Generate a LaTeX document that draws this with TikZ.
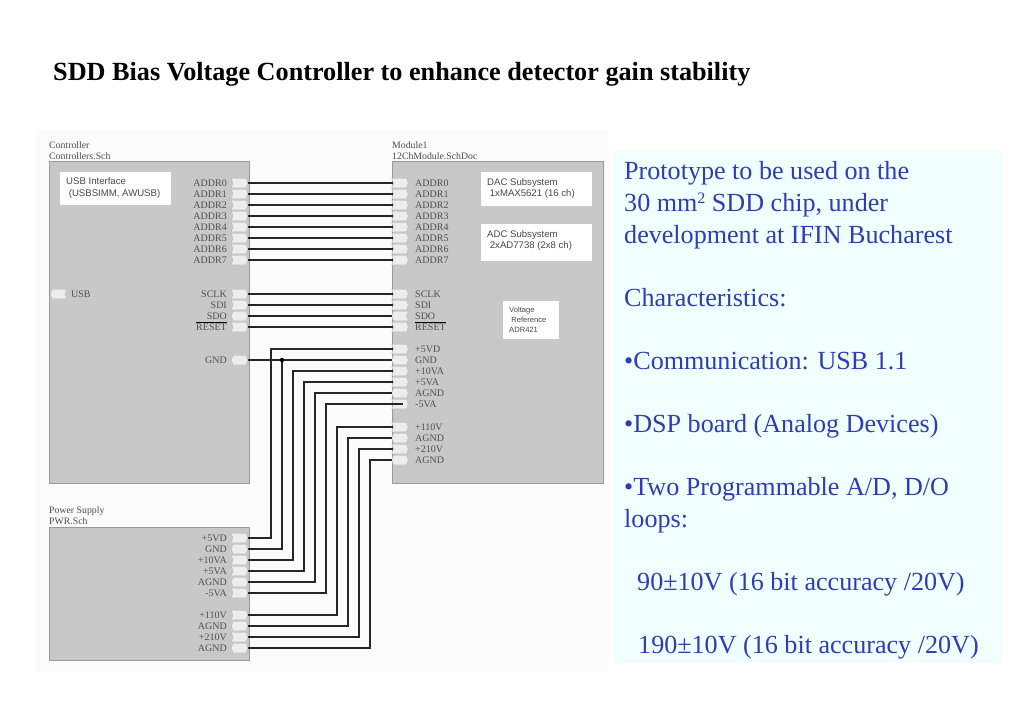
\documentclass[tikz,border=0pt]{standalone}
\usepackage{fontspec}
\setmainfont{Liberation Serif}
\newfontfamily\sansf{Liberation Sans}
\usetikzlibrary{shapes.symbols}
\definecolor{blockgray}{HTML}{C8C8C8}
\definecolor{panelbg}{HTML}{F0FFFF}
\definecolor{panelink}{HTML}{2F3CB4}
\definecolor{smallink}{HTML}{505050}
\definecolor{portfill}{HTML}{EDEDED}
\definecolor{sheetbg}{HTML}{FBFBFB}
\tikzset{
  block/.style={draw=black!40,line width=0.7pt,fill=blockgray},
  sigbase/.style={shape=signal,draw=black!28,line width=0.4pt,fill=portfill,minimum width=16.5pt,minimum height=9.5pt,inner sep=0pt,outer sep=0pt,signal pointer angle=140},
  pout/.style={sigbase,signal from=west,signal to=east},
  pleft/.style={sigbase,signal from=east,signal to=west},
  pbi/.style={sigbase,signal from=nowhere,signal to=east and west},
  plabel/.style={font=\fontsize{10}{10}\selectfont,text=smallink,inner sep=0pt},
  lw/.style={plabel,anchor=west},
  le/.style={plabel,anchor=east},
  blocktitle/.style={font=\fontsize{9.8}{11}\selectfont,text=black!70,inner sep=0pt,anchor=base west},
  sanslabel/.style={font=\sansf\fontsize{9.6}{11.5}\selectfont,text=black!72,inner sep=0pt,anchor=north west,align=left},
  wire/.style={draw=black!85,line width=1.6pt},
  bodytext/.style={font=\fontsize{26.1}{30}\selectfont,text=panelink,inner sep=0pt,anchor=base west},
}
\begin{document}
\begin{tikzpicture}[x=1pt,y=-1pt]
\useasboundingbox (0,0) rectangle (1024,709);
\fill[white] (0,0) rectangle (1024,709);
\fill[sheetbg] (36,130) rectangle (608,672);
\fill[panelbg] (614,150) rectangle (1001,663);

\node[inner sep=0pt,anchor=base west,font=\bfseries\fontsize{26.2}{28}\selectfont] (title) at (53,80) {SDD Bias Voltage Controller to enhance detector gain stability};

% blocks
\draw[block] (49,161) rectangle (249,483);
\draw[block] (392,161) rectangle (603.5,483);
\draw[block] (49,527) rectangle (249,660);

\node[blocktitle] (t1) at (49,148) {Controller};
\node[blocktitle] (t2) at (49,159) {Controllers.Sch};
\node[blocktitle] (t3) at (392,148) {Module1};
\node[blocktitle] (t4) at (392,159) {12ChModule.SchDoc};
\node[blocktitle] (t5) at (49,513) {Power Supply};
\node[blocktitle] (t6) at (49,524) {PWR.Sch};

% white boxes
\fill[white] (60,172) rectangle (171,205);
\node[sanslabel] (usbif) at (66,177.5) {USB Interface\\\ (USBSIMM, AWUSB)};
\fill[white] (481,172) rectangle (592,206);
\node[sanslabel] (dac) at (487,178) {DAC Subsystem\\\ 1xMAX5621 (16 ch)};
\fill[white] (481,224) rectangle (592,261);
\node[sanslabel] (adc) at (487,230) {ADC Subsystem\\\ 2xAD7738 (2x8 ch)};
\fill[white] (503,301) rectangle (559,339);
\node[sanslabel,font=\sansf\fontsize{7.6}{10}\selectfont] (vref) at (509,306.5) {Voltage\\\ Reference\\ ADR421};

% USB port
\node[pleft] (pusb) at (58.5,294) {};
\node[lw] (lusb) at (71,294) {USB};

% address and serial bus
\foreach \n/\lab/\yy in {a0/ADDR0/183,a1/ADDR1/194,a2/ADDR2/205,a3/ADDR3/216,a4/ADDR4/227,a5/ADDR5/238,a6/ADDR6/249,a7/ADDR7/260,sc/SCLK/294,sd/SDI/305,rs/RESET/327}{
  \node[pout] (c\n) at (239.5,\yy) {};
  \node[pout] (m\n) at (400,\yy) {};
  \node[le] (cl\n) at (227,\yy) {\lab};
  \node[lw] (ml\n) at (415,\yy) {\lab};
  \draw[wire] (c\n.east) -- (m\n.west);
}
% SDO
\node[pbi] (csd0) at (239.5,316) {};
\node[pleft] (msd0) at (400,316) {};
\node[le] (clsd0) at (227,316) {SDO};
\node[lw] (mlsd0) at (415,316) {SDO};
\draw[wire] (csd0.east) -- (msd0.west);
\draw[black,line width=0.7pt] ([yshift=0.8pt]clrs.north west) -- ([yshift=0.8pt]clrs.north east);
\draw[black,line width=0.7pt] ([yshift=0.8pt]mlrs.north west) -- ([yshift=0.8pt]mlrs.north east);

% module power ports
\foreach \n/\lab/\st/\yy in {v5d/+5VD/pout/349,gnd/GND/pbi/360,v10/+10VA/pout/371,v5a/+5VA/pout/382,ag1/AGND/pbi/393,vm5/-5VA/pout/404,v110/+110V/pout/427,ag2/AGND/pbi/438,v210/+210V/pout/449,ag3/AGND/pbi/460}{
  \node[\st] (m\n) at (400,\yy) {};
  \node[lw] (ml\n) at (415,\yy) {\lab};
}
% supply ports
\foreach \n/\lab/\st/\yy in {v5d/+5VD/pout/538,gnd/GND/pbi/549,v10/+10VA/pout/560,v5a/+5VA/pout/571,ag1/AGND/pbi/582,vm5/-5VA/pout/593,v110/+110V/pout/615,ag2/AGND/pbi/626,v210/+210V/pout/637,ag3/AGND/pbi/648}{
  \node[\st] (s\n) at (239.5,\yy) {};
  \node[le] (sl\n) at (227,\yy) {\lab};
}
% controller GND
\node[pbi] (cgnd) at (239.5,360) {};
\node[le] (clgnd) at (227,360) {GND};
\draw[wire] (cgnd.east) -- (mgnd.west);

% power wiring
\foreach \n/\xx in {v5d/271,gnd/282,v10/293,v5a/304,ag1/315,v110/337,ag2/348,v210/359,ag3/370}{
  \draw[wire,line join=miter] (s\n.east) -| (\xx,0 |- m\n.west) -- (m\n.west);
}
\draw[wire] (svm5.east) -| (326,0 |- mvm5.west) -- (mvm5.center) -- ++(3,0);
\fill[black] (282,360) circle (2.2pt);

% right text
\node[bodytext] (b1) at (624,179) {Prototype to be used on the};
\node[bodytext] (b2) at (624,211) {30 mm\raisebox{7.5pt}{\fontsize{16}{16}\selectfont 2} SDD chip, under};
\node[bodytext] (b3) at (624,243) {development at IFIN Bucharest};
\node[bodytext] (b4) at (624,306) {Characteristics:};
\node[bodytext] (b5) at (624,369) {•Communication: USB 1.1};
\node[bodytext] (b6) at (624,432) {•DSP board (Analog Devices)};
\node[bodytext] (b7) at (624,495) {•Two Programmable A/D, D/O};
\node[bodytext] (b8) at (624,527) {loops:};
\node[bodytext] (b9) at (637,590) {90±10V (16 bit accuracy /20V)};
\node[bodytext] (b10) at (638,653) {190±10V (16 bit accuracy /20V)};
\end{tikzpicture}
\end{document}
